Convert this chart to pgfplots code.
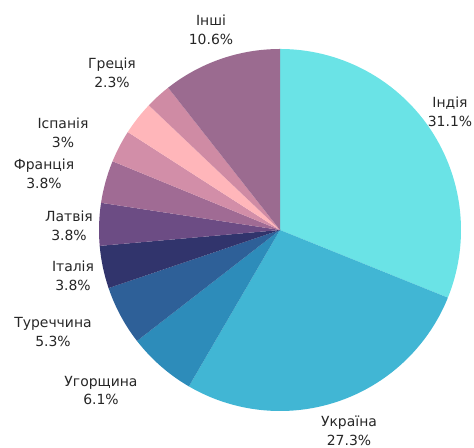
\documentclass[border=0pt]{standalone}
\usepackage{pgfplots}
\pgfplotsset{compat=1.18}
\usepackage{pgfplotstable}
\usepackage{fontspec}
\setmainfont{DejaVu Sans}
\definecolor{c0}{HTML}{6AE3E6}
\definecolor{c1}{HTML}{41B6D4}
\definecolor{c2}{HTML}{2D8CBA}
\definecolor{c3}{HTML}{2E6098}
\definecolor{c4}{HTML}{31346C}
\definecolor{c5}{HTML}{6C4C84}
\definecolor{c6}{HTML}{A06B94}
\definecolor{c7}{HTML}{D28EA8}
\definecolor{c8}{HTML}{FFB6BA}
\definecolor{c9}{HTML}{CF8BA4}
\definecolor{c10}{HTML}{9B6B90}
\definecolor{txt}{HTML}{262626}
% name, share (%), colour, label centre (pixels from left / from top)
\pgfplotstableread{
name value color lx ly
Індія 31.1 c0 450 111.5
Україна 27.3 c1 349 430.5
Угорщина 6.1 c2 101 390.5
Туреччина 5.3 c3 53 332
Італія 3.8 c4 73 275.5
Латвія 3.8 c5 69 225.5
Франція 3.8 c6 44 174
none 2.9 c7 -1 -1
Іспанія 3 c8 63 132.5
Греція 2.3 c9 112 72.5
Інші 10.6 c10 211 30
}\piedata
\tikzset{lbl/.style={align=center, text=txt, inner sep=0pt, font=\fontsize{14}{19}\selectfont}}
\begin{document}
\begin{tikzpicture}
\begin{axis}[
  x=1bp, y=1bp,
  xmin=0, xmax=474, ymin=0, ymax=448,
  hide axis, clip=false,
]
\coordinate (bl) at (axis cs:0,0);
\coordinate (tr) at (axis cs:474,448);
\pgfplotstablegetrowsof{\piedata}
\pgfmathtruncatemacro{\lastrow}{\pgfplotsretval-1}
\def\cum{0}
\pgfplotsforeachungrouped \i in {0,...,\lastrow}{%
  \pgfplotstablegetelem{\i}{value}\of\piedata \let\val\pgfplotsretval
  \pgfplotstablegetelem{\i}{color}\of\piedata \let\col\pgfplotsretval
  \pgfplotstablegetelem{\i}{name}\of\piedata \let\nm\pgfplotsretval
  \pgfplotstablegetelem{\i}{lx}\of\piedata \let\lx\pgfplotsretval
  \pgfplotstablegetelem{\i}{ly}\of\piedata \let\ly\pgfplotsretval
  \pgfmathsetmacro{\aone}{90-3.6*\cum}
  \pgfmathsetmacro{\atwo}{90-3.6*(\cum+\val)}
  \pgfmathsetmacro{\cum}{\cum+\val}
  \edef\temp{\noexpand\fill[\col] (axis cs:280,218) -- ++(\aone:181bp) arc[start angle=\aone, end angle=\atwo, radius=181bp] -- cycle;}%
  \temp
  \ifdim\lx pt>0pt
    \pgfmathsetmacro{\lyy}{448-\ly}%
    \edef\temp{\noexpand\node[lbl] at (axis cs:\lx,\lyy) {\nm\noexpand\\\val\noexpand\%};}%
    \temp
  \fi
}
\end{axis}
\pgfresetboundingbox
\path (bl) rectangle (tr);
\end{tikzpicture}
\end{document}
